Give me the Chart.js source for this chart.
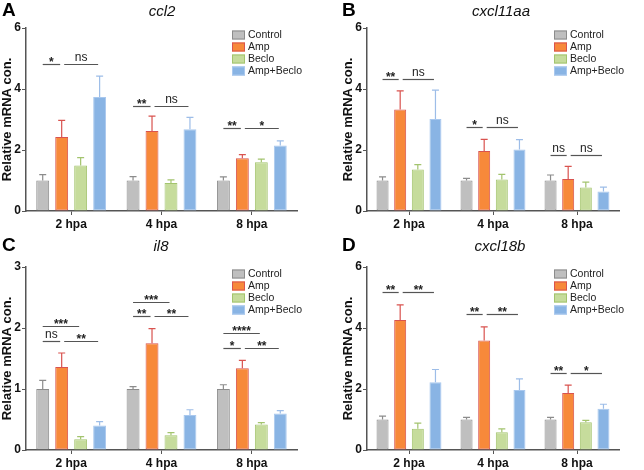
<!DOCTYPE html>
<html>
<head>
<meta charset="utf-8">
<script src="https://cdn.jsdelivr.net/npm/chart.js@4.4.1/dist/chart.umd.min.js"></script>
<style>
  body { margin: 0; background: #fff; font-family: 'Liberation Sans', Arial, sans-serif; }
  #page { position: relative; width: 644px; height: 470px; overflow: hidden; }
  .panel { position: absolute; width: 322px; height: 235px; }
  .panel canvas { position: absolute; left: 0; top: 0; }
  .letter { position: absolute; top: -1px; font-weight: bold; font-size: 19px; color: #000; }
  .gene { position: absolute; top: 2px; font-style: italic; font-size: 15px; color: #111; transform: translateX(-50%); white-space: nowrap; }
</style>
</head>
<body>
<div id="page">
  <div class="panel" style="left:0;top:0"><canvas id="chartA" width="322" height="235"></canvas>
    <div class="letter" style="left:2px">A</div><div class="gene" style="left:162px">ccl2</div></div>
  <div class="panel" style="left:322px;top:0"><canvas id="chartB" width="322" height="235"></canvas>
    <div class="letter" style="left:20px">B</div><div class="gene" style="left:179px">cxcl11aa</div></div>
  <div class="panel" style="left:0;top:235px"><canvas id="chartC" width="322" height="235"></canvas>
    <div class="letter" style="left:2px">C</div><div class="gene" style="left:161px">il8</div></div>
  <div class="panel" style="left:322px;top:235px"><canvas id="chartD" width="322" height="235"></canvas>
    <div class="letter" style="left:20px">D</div><div class="gene" style="left:178px">cxcl18b</div></div>
</div>
<script>
const timepoints = ['2 hpa', '4 hpa', '8 hpa'];
const groups = ['Control', 'Amp', 'Beclo', 'Amp+Beclo'];
const fills = ['#bfbfbf', '#f7893a', '#c6dc9c', '#89b4e4'];
const edges = ['#8c8c8c', '#d9534f', '#a3c46e', '#a9c8ee'];
const whiskers = ['#8c8c8c', '#d9534f', '#a3c46e', '#9dbde8'];

// rows = groups, columns = timepoints
const ccl2Mean = [[1.0, 1.0, 1.0], [2.43, 2.62, 1.73], [1.49, 0.92, 1.60], [3.74, 2.68, 2.15]];
const ccl2Sem = [[0.19, 0.13, 0.12], [0.54, 0.49, 0.12], [0.26, 0.10, 0.10], [0.68, 0.39, 0.15]];
const ccl2Sig = [[0, 0, 1, 4.81, '*'], [0, 1, 3, 4.81, 'ns'], [1, 0, 1, 3.45, '**'], [1, 1, 3, 3.45, 'ns'], [2, 0, 1, 2.71, '**'], [2, 1, 3, 2.71, '*']];

const cxcl11aaMean = [[1.0, 1.0, 1.0], [3.33, 1.97, 1.05], [1.36, 1.03, 0.77], [3.02, 2.02, 0.64]];
const cxcl11aaSem = [[0.12, 0.07, 0.18], [0.61, 0.38, 0.41], [0.16, 0.17, 0.18], [0.94, 0.32, 0.14]];
const cxcl11aaSig = [[0, 0, 1, 4.34, '**'], [0, 1, 3, 4.34, 'ns'], [1, 0, 1, 2.75, '*'], [1, 1, 3, 2.75, 'ns'], [2, 0, 1, 1.85, 'ns'], [2, 1, 3, 1.85, 'ns']];

const il8Mean = [[1.0, 1.0, 1.0], [1.36, 1.75, 1.34], [0.175, 0.24, 0.42], [0.40, 0.575, 0.60]];
const il8Sem = [[0.14, 0.04, 0.07], [0.23, 0.24, 0.13], [0.045, 0.045, 0.03], [0.065, 0.085, 0.045]];
const il8Sig = [[0, 0, 2, 2.04, '***'], [0, 0, 1, 1.79, 'ns'], [0, 1, 3, 1.79, '**'],
  [1, 0, 2, 2.42, '***'], [1, 0, 1, 2.19, '**'], [1, 1, 3, 2.19, '**'],
  [2, 0, 2, 1.92, '****'], [2, 0, 1, 1.67, '*'], [2, 1, 3, 1.67, '**']];

const cxcl18bMean = [[1.0, 1.0, 1.0], [4.26, 3.59, 1.87], [0.70, 0.58, 0.91], [2.22, 1.97, 1.35]];
const cxcl18bSem = [[0.11, 0.07, 0.07], [0.50, 0.45, 0.26], [0.18, 0.11, 0.06], [0.42, 0.36, 0.15]];
const cxcl18bSig = [[0, 0, 1, 5.18, '**'], [0, 1, 3, 5.18, '**'], [1, 0, 1, 4.46, '**'], [1, 1, 3, 4.46, '**'], [2, 0, 1, 2.54, '**'], [2, 1, 3, 2.54, '*']];

const fontFamily = "'Liberation Sans', Arial, sans-serif";

// error bars, significance lines and the legend, all drawn from the chart's scales
const extras = {
  id: 'extras',
  afterDatasetsDraw(chart, args, opts) {
    const ctx = chart.ctx;
    const y = chart.scales.y;
    ctx.save();
    // error bars (upper only)
    chart.data.datasets.forEach((ds, i) => {
      const meta = chart.getDatasetMeta(i);
      meta.data.forEach((bar, j) => {
        const top = y.getPixelForValue(ds.data[j] + opts.sems[i][j]);
        ctx.strokeStyle = whiskers[i];
        ctx.lineWidth = 1.2;
        ctx.beginPath();
        ctx.moveTo(bar.x, bar.y);
        ctx.lineTo(bar.x, top);
        ctx.moveTo(bar.x - 3.5, top);
        ctx.lineTo(bar.x + 3.5, top);
        ctx.stroke();
      });
    });
    // significance
    ctx.strokeStyle = '#555';
    ctx.fillStyle = '#222';
    ctx.lineWidth = 1.2;
    ctx.font = '12px ' + fontFamily;
    ctx.textAlign = 'center';
    ctx.textBaseline = 'bottom';
    opts.sigs.forEach(s => {
      const a = chart.getDatasetMeta(s[1]).data[s[0]];
      const b = chart.getDatasetMeta(s[2]).data[s[0]];
      const x1 = a.x + (s[1] === 0 ? 0 : 2.5);
      const x2 = b.x - 1.5;
      const py = Math.round(y.getPixelForValue(s[3])) + 0.5;
      ctx.beginPath();
      ctx.moveTo(x1, py);
      ctx.lineTo(x2, py);
      ctx.stroke();
      const label = s[4];
      if (label.indexOf('*') >= 0) {
        ctx.font = 'bold 12px ' + fontFamily;
        ctx.fillText(label, (x1 + x2) / 2, py + 4);
      } else {
        ctx.font = '12px ' + fontFamily;
        ctx.fillText(label, (x1 + x2) / 2, py - 1);
      }
    });
    // legend
    const area = chart.chartArea;
    ctx.font = '10.5px ' + fontFamily;
    ctx.textAlign = 'left';
    ctx.textBaseline = 'middle';
    chart.data.datasets.forEach((ds, i) => {
      const bx = area.right - 65;
      const cy = area.top + 7 + i * 12;
      ctx.fillStyle = fills[i];
      ctx.fillRect(bx, cy - 4.5, 13, 9);
      ctx.strokeStyle = edges[i];
      ctx.lineWidth = 1;
      ctx.strokeRect(bx + 0.5, cy - 4.5 + 0.5, 12, 8);
      ctx.fillStyle = '#222';
      ctx.fillText(ds.label, bx + 16, cy + 0.5);
    });
    ctx.restore();
  }
};

function makeChart(id, means, sems, sigs, yMax, yStep, padLeft, padTop) {
  new Chart(document.getElementById(id), {
    type: 'bar',
    data: {
      labels: timepoints,
      datasets: groups.map((g, i) => ({
        label: g,
        data: means[i],
        backgroundColor: fills[i],
        borderColor: edges[i],
        borderWidth: 1,
        borderSkipped: false,
        barPercentage: 0.68,
        categoryPercentage: 0.84
      }))
    },
    options: {
      responsive: false,
      animation: false,
      layout: {
        padding: { left: padLeft, top: padTop, right: 25, bottom: 0 }
      },
      plugins: {
        legend: { display: false },
        tooltip: { enabled: false },
        extras: { sems: sems, sigs: sigs }
      },
      scales: {
        x: {
          afterFit(scale) { scale.height = 235 - padTop - 183; },
          grid: {
            drawOnChartArea: false,
            offset: false,
            tickLength: 4,
            tickColor: '#555'
          },
          border: { color: '#555', width: 1.5 },
          ticks: {
            color: '#111',
            padding: 2,
            font: { family: fontFamily, size: 12, weight: 'bold' }
          }
        },
        y: {
          min: 0,
          max: yMax,
          afterFit(scale) { scale.width = 26; },
          grid: {
            drawOnChartArea: false,
            tickLength: 4,
            tickColor: '#555'
          },
          border: { color: '#555', width: 1.5 },
          ticks: {
            stepSize: yStep,
            color: '#111',
            padding: 1,
            font: { family: fontFamily, size: 12, weight: 'bold' }
          },
          title: {
            display: true,
            text: 'Relative mRNA con.',
            color: '#111',
            padding: { top: 0, bottom: 0 },
            font: { family: fontFamily, size: 13, weight: 'bold' }
          }
        }
      }
    },
    plugins: [extras]
  });
}

makeChart('chartA', ccl2Mean, ccl2Sem, ccl2Sig, 6, 2, 0, 28);
makeChart('chartB', cxcl11aaMean, cxcl11aaSem, cxcl11aaSig, 6, 2, 19, 28);
makeChart('chartC', il8Mean, il8Sem, il8Sig, 3, 1, 0, 32);
makeChart('chartD', cxcl18bMean, cxcl18bSem, cxcl18bSig, 6, 2, 19, 32);
</script>
</body>
</html>
